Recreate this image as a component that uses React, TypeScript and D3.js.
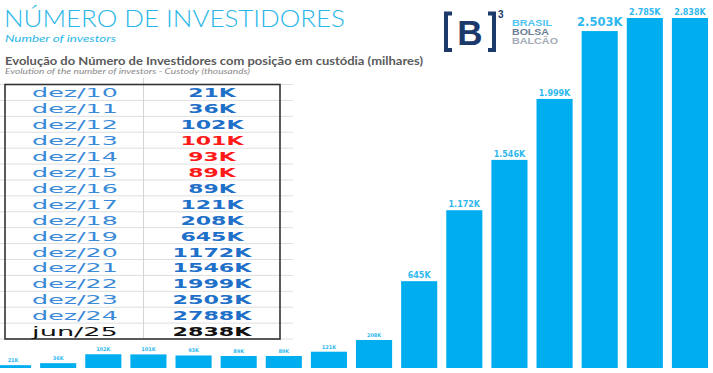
import React, { useEffect, useRef } from "react";
import * as d3 from "d3";

// periods and values (thousands)
const periods = ["dez/10", "dez/11", "dez/12", "dez/13", "dez/14", "dez/15", "dez/16", "dez/17",
  "dez/18", "dez/19", "dez/20", "dez/21", "dez/22", "dez/23", "dez/24", "jun/25"];
const investors = [21, 36, 102, 101, 93, 89, 89, 121, 208, 645, 1172, 1546, 1999, 2503, 2788, 2838];
const barLabels = ["21K", "36K", "102K", "101K", "93K", "89K", "89K", "121K", "208K", "645K",
  "1.172K", "1.546K", "1.999K", "2.503K", "2.785K", "2.838K"];
const tableValues = ["21K", "36K", "102K", "101K", "93K", "89K", "89K", "121K", "208K", "645K",
  "1172K", "1546K", "1999K", "2503K", "2788K", "2838K"];
const dropYears = ["dez/13", "dez/14", "dez/15"];
const logoWords = ["BRASIL", "BOLSA", "BALCÃO"];

const W = 713;
const H = 373;
const BLUE = "#00aeef";

export default function App() {
  const ref = useRef<SVGSVGElement>(null);

  useEffect(() => {
    const svg = d3.select(ref.current);
    svg.selectAll("*").remove();

    // bars
    const x = d3.scaleBand().domain(periods).range([-5, 708]).paddingInner(0.2).paddingOuter(0);
    const y = d3.scaleLinear().domain([0, 2600]).range([368, 18]).clamp(true);

    const bars = svg.append("g");
    bars.selectAll("rect").data(periods).join("rect")
      .attr("x", d => x(d)!)
      .attr("width", x.bandwidth())
      .attr("y", (d, i) => y(investors[i]))
      .attr("height", (d, i) => y(0) - y(investors[i]))
      .attr("fill", BLUE);

    const labelSize = (v: number) => v < 600 ? 5 : v > 2400 && v < 2600 ? 11.5 : 8;
    bars.selectAll("text").data(periods).join("text")
      .attr("x", d => x(d)! + x.bandwidth() / 2)
      .attr("y", (d, i) => y(investors[i]) - (labelSize(investors[i]) > 10 ? 5 : 3))
      .attr("text-anchor", "middle")
      .attr("font-family", "DejaVu Sans, sans-serif")
      .attr("font-weight", "bold")
      .attr("font-size", (d, i) => labelSize(investors[i]))
      .attr("fill", "#2fb8ee")
      .text((d, i) => barLabels[i]);

    // titles
    svg.append("text").attr("x", 4).attr("y", 27)
      .attr("font-family", "Lato, sans-serif").attr("font-weight", 300)
      .attr("font-size", 24).attr("textLength", 341).attr("lengthAdjust", "spacingAndGlyphs")
      .attr("fill", "#29b6e8")
      .text("NÚMERO DE INVESTIDORES");
    svg.append("text").attr("x", 5).attr("y", 42)
      .attr("font-family", "Lato, sans-serif").attr("font-style", "italic")
      .attr("font-size", 9.5).attr("textLength", 111).attr("lengthAdjust", "spacingAndGlyphs")
      .attr("fill", "#29b6e8")
      .text("Number of investors");
    svg.append("text").attr("x", 5).attr("y", 65)
      .attr("font-family", "Lato, sans-serif").attr("font-weight", "bold")
      .attr("font-size", 12).attr("textLength", 418).attr("lengthAdjust", "spacingAndGlyphs")
      .attr("fill", "#5a5a5a")
      .text("Evolução do Número de Investidores com posição em custódia (milhares)");
    svg.append("text").attr("x", 5).attr("y", 74)
      .attr("font-family", "Lato, sans-serif").attr("font-style", "italic")
      .attr("font-size", 7.5).attr("textLength", 245).attr("lengthAdjust", "spacingAndGlyphs")
      .attr("fill", "#8a8a8a")
      .text("Evolution of the number of investors - Custody (thousands)");

    // logo
    const logo = svg.append("g");
    logo.append("path").attr("d", "M452,13.5H446V50H452").attr("fill", "none")
      .attr("stroke", "#1b3a6b").attr("stroke-width", 4);
    logo.append("path").attr("d", "M488,13.5H494V50H488").attr("fill", "none")
      .attr("stroke", "#1b3a6b").attr("stroke-width", 4);
    logo.append("text").attr("x", 470).attr("y", 45).attr("text-anchor", "middle")
      .attr("font-family", "Liberation Sans, sans-serif").attr("font-weight", "bold")
      .attr("font-size", 35).attr("fill", "#1b3a6b").text("B");
    logo.append("text").attr("x", 498).attr("y", 18)
      .attr("font-family", "Liberation Sans, sans-serif").attr("font-weight", "bold")
      .attr("font-size", 10).attr("fill", "#1b3a6b").text("3");
    const logoColors = ["#4fc3f0", "#6d7f94", "#a3acb8"];
    const logoLens = [40, 37, 46];
    logo.selectAll(".lw").data(logoWords).join("text")
      .attr("x", 512).attr("y", (d, i) => 26 + i * 9)
      .attr("font-family", "Liberation Sans, sans-serif").attr("font-weight", "bold")
      .attr("font-size", 8.5).attr("textLength", (d, i) => logoLens[i]).attr("lengthAdjust", "spacingAndGlyphs")
      .attr("fill", (d, i) => logoColors[i]).text(d => d);

    // table
    const rows = d3.scaleBand().domain(periods).range([84.5, 339]);
    const table = svg.append("g");
    table.selectAll("line.h").data(d3.range(periods.length + 1)).join("line")
      .attr("class", "h")
      .attr("x1", 0).attr("x2", 293)
      .attr("y1", i => 84.5 + i * rows.bandwidth()).attr("y2", i => 84.5 + i * rows.bandwidth())
      .attr("stroke", "#dedede").attr("stroke-width", 1);
    table.append("line").attr("x1", 143.5).attr("x2", 143.5).attr("y1", 78).attr("y2", 339)
      .attr("stroke", "#d4d4d4");
    table.append("rect").attr("x", 5).attr("y", 84.5).attr("width", 275).attr("height", 254.5)
      .attr("fill", "none").attr("stroke", "#333").attr("stroke-width", 1.6);

    table.selectAll("text.p").data(periods).join("text")
      .attr("class", "p")
      .attr("x", 75).attr("y", d => rows(d)! + rows.bandwidth() / 2 + 5)
      .attr("text-anchor", "middle")
      .attr("font-family", "DejaVu Sans, sans-serif")
      .attr("font-size", 13)
      .attr("textLength", d => d.length * 14.3).attr("lengthAdjust", "spacingAndGlyphs")
      .attr("fill", d => d.startsWith("jun") ? "#111" : "#3a8ad8")
      .text(d => d);

    table.selectAll("text.v").data(periods).join("text")
      .attr("class", "v")
      .attr("x", 212).attr("y", d => rows(d)! + rows.bandwidth() / 2 + 5)
      .attr("text-anchor", "middle")
      .attr("font-family", "DejaVu Sans, sans-serif")
      .attr("font-weight", "bold")
      .attr("font-size", 13)
      .attr("textLength", (d, i) => tableValues[i].length * 15.8).attr("lengthAdjust", "spacingAndGlyphs")
      .attr("fill", d => d.startsWith("jun") ? "#111" : dropYears.includes(d) ? "#ff1a1a" : "#1f70c8")
      .text((d, i) => tableValues[i]);
  }, []);

  return (
    <svg ref={ref} width={W} height={H}
      style={{ position: "absolute", left: 0, top: 0, background: "#fff" }} />
  );
}
